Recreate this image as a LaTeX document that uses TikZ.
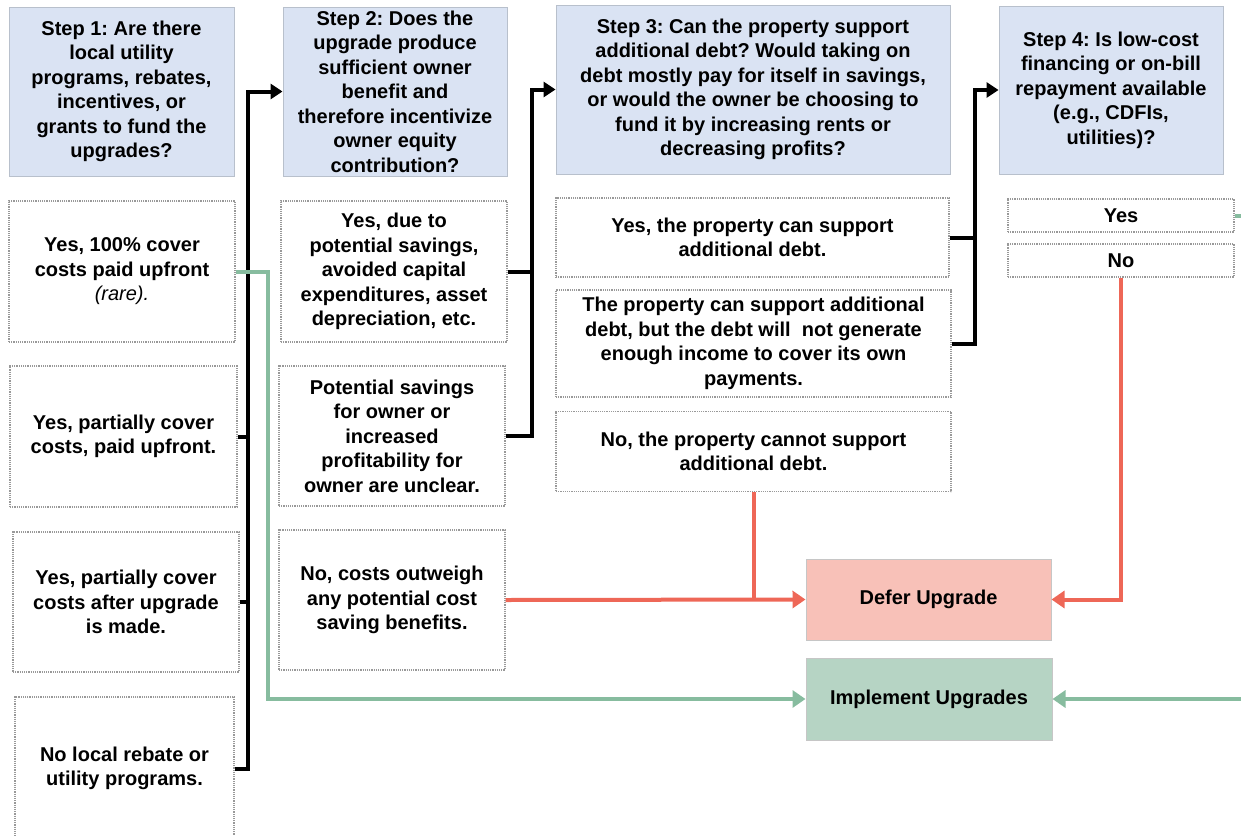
\documentclass[tikz,border=0pt]{standalone}
\usepackage{fontspec}
\setmainfont{Liberation Sans}
\usetikzlibrary{positioning}
\usetikzlibrary{arrows.meta}
\frenchspacing
\definecolor{qblue}{HTML}{DAE3F3}
\definecolor{qedge}{HTML}{B8C0CC}
\definecolor{deferfill}{HTML}{F8C1B8}
\definecolor{implfill}{HTML}{B6D4C4}
\definecolor{noline}{HTML}{EE6757}
\definecolor{yesline}{HTML}{87BC9F}
\tikzset{x=1pt, y=-1pt,
         every node/.style={font=\fontsize{20}{24.5}\selectfont\bfseries,
                            align=center, inner sep=0pt},
         question/.style={draw=qedge, fill=qblue, line width=1pt},
         answer/.style={draw=gray!80, densely dotted, line width=1.2pt},
         outcome/.style={draw=gray!45, line width=1pt},
         link/.style={draw, line width=4pt},
         bus/.style={link, -{Triangle[length=12pt,width=15pt]}},
         yes/.style={draw=yesline, line width=4pt, -{Triangle[length=13pt,width=17pt]}},
         no/.style={draw=noline, line width=4pt, -{Triangle[length=13pt,width=17pt]}} }

\begin{document}
\begin{tikzpicture}
    \useasboundingbox (0,0) rectangle (1241,835);
    \node[question, minimum width=225, minimum height=169] (s1) at (121.5,91.5)
        {Step 1: Are there\\local utility\\programs, rebates,\\incentives, or\\grants to fund the\\upgrades?};
    \node[question, minimum width=224, minimum height=169] (s2) at (395,91.5)
        {Step 2: Does the\\upgrade produce\\sufficient owner\\benefit and\\therefore incentivize\\owner equity\\contribution?};
    \node[question, minimum width=394, minimum height=169] (s3) at (753,89.5)
        {Step 3: Can the property support\\additional debt? Would taking on\\debt mostly pay for itself in savings,\\or would the owner be choosing to\\fund it by increasing rents or\\decreasing profits?};
    \node[question, minimum width=224, minimum height=168] (s4) at (1111,90)
        {Step 4: Is low-cost\\financing or on-bill\\repayment available\\(e.g., CDFIs,\\utilities)?};

    \node[answer, minimum width=226, minimum height=141] (a1) at (122,271.5)
        {Yes, 100\% cover\\costs paid upfront\\{\mdseries\itshape (rare).}};
    \node[answer, minimum width=227, minimum height=141] (a2) at (123.5,436.5)
        {Yes, partially cover\\costs, paid upfront.};
    \node[answer, minimum width=226, minimum height=140] (a3) at (126,602)
        {Yes, partially cover\\costs after upgrade\\is made.};
    \node[answer, minimum width=219, minimum height=143] (a4) at (124.5,768.5)
        {No local rebate or\\utility programs.};

    \node[answer, minimum width=226, minimum height=141] (b1) at (394,271.5)
        {Yes, due to\\potential savings,\\avoided capital\\expenditures, asset\\depreciation, etc.};
    \node[answer, minimum width=226, minimum height=140] (b2) at (392,436)
        {Potential savings\\for owner or\\increased\\profitability for\\owner are unclear.};
    \node[answer, minimum width=226, minimum height=140] (b3) at (392,600)
        {No, costs outweigh\\any potential cost\\saving benefits.};

    \node[answer, minimum width=393, minimum height=79] (c1) at (752.5,237.5)
        {Yes, the property can support\\additional debt.};
    \node[answer, minimum width=395, minimum height=107] (c2) at (753.5,343.5)
        {The property can support additional\\debt, but the debt will\ \ not generate\\enough income to cover its own\\payments.};
    \node[answer, minimum width=395, minimum height=80] (c3) at (753.5,451.5)
        {No, the property cannot support\\additional debt.};

    \node[answer, minimum width=226, minimum height=33] (d1) at (1121,215.5) {Yes};
    \node[answer, minimum width=226, minimum height=33] (d2) at (1121,260.5) {No};

    \node[outcome, fill=deferfill, minimum width=245, minimum height=81] (defer) at (928.5,599.5)
        {Defer Upgrade};
    \node[outcome, fill=implfill, minimum width=246, minimum height=82] (impl) at (929,699)
        {Implement Upgrades};

    \coordinate (k1) at (248,91.5);
    \coordinate (k2) at (532,89.5);
    \coordinate (k3) at (975,90);
    \draw[bus] (a4.east) -| (k1) -- (s2.west);
    \draw[link] (a2.east) -- (a2.east -| k1);
    \draw[link] (a3.east) -- (a3.east -| k1);
    \draw[bus] (b2.east) -| (k2) -- (s3.west);
    \draw[link] (b1.east) -- (b1.east -| k2);
    \draw[bus] (c2.east) -| (k3) -- (s4.west);
    \draw[link] (c1.east) -- (c1.east -| k3);

    \coordinate (g1) at (268,699);
    \coordinate (g2) at (1258,699);
    \draw[yes] (a1.east) -| (g1) -- (impl.west);
    \draw[yes] (d1.east) -| (g2) -- (impl.east);

    \draw[no] (b3.east) -- (defer.west);
    \draw[draw=noline, line width=4pt] (c3.south) -- (c3.south |- defer.west);
    \draw[no] (d2.south) |- (defer.east);
\end{tikzpicture}
\end{document}
